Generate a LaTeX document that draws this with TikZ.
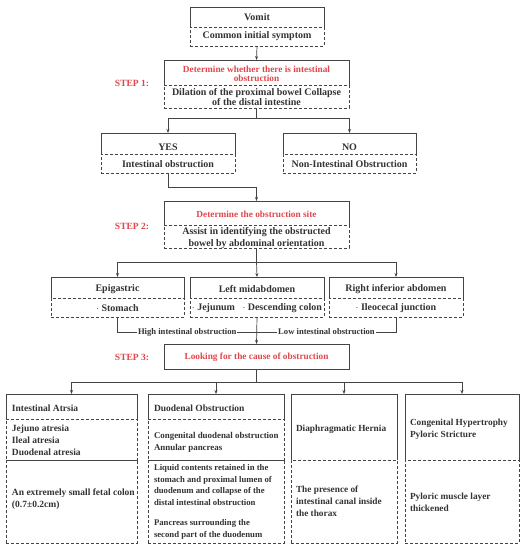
\documentclass[tikz,border=0pt]{standalone}
\usepackage{fontspec}
\setmainfont{Liberation Serif}
\usetikzlibrary{arrows.meta}
\definecolor{stepred}{HTML}{E0474C}
\definecolor{ink}{HTML}{333333}
\definecolor{linec}{HTML}{444444}
\begin{document}
\begin{tikzpicture}[x=1pt,y=-1pt,
  every node/.style={inner sep=0pt,outer sep=0pt,font=\bfseries\fontsize{10}{12}\selectfont,text=ink},
  boxpart/.style n args={2}{minimum width=#1,minimum height=#2},
  dbox/.style={draw=linec,line width=0.7pt,dash pattern=on 3pt off 2pt},
  sbox/.style={draw=linec,line width=0.7pt},
  txt/.style={align=center},
  ltxt/.style={align=left,anchor=west},
  redtxt/.style={text=stepred,font=\bfseries\fontsize{9.3}{9}\selectfont,align=center},
  steplbl/.style={text=stepred,font=\bfseries\fontsize{9.5}{11}\selectfont},
  conn/.style={draw=linec,line width=0.7pt},
  arr/.style={conn,-{Stealth[length=4pt,width=3pt]}},
  btxt/.style={font=\bfseries\fontsize{9.5}{12}\selectfont},
  stxt/.style={font=\bfseries\fontsize{8.7}{11.5}\selectfont},
  lbl/.style={fill=white,inner xsep=1pt,font=\bfseries\fontsize{8.6}{10}\selectfont}
]
\useasboundingbox (0,0) rectangle (526,550);
\fill[white] (0,0) rectangle (526,550);

% ---- Vomit
\node[boxpart={134pt}{20pt}] (vt) at (257,17) {};
\node[boxpart={134pt}{19pt},dbox] (vb) at (257,36.5) {};
\draw[sbox] (vt.south west) -- (vt.north west) -- (vt.north east) -- (vt.south east);
\node[txt] (vtt) at (257,17.5) {Vomit};
\node[txt] (vbt) at (257,36.5) {Common initial symptom};

% ---- Step 1
\node[boxpart={185pt}{25pt}] (s1t) at (256.5,72.5) {};
\node[boxpart={185pt}{23pt},dbox] (s1b) at (256.5,96.5) {};
\draw[sbox] (s1t.south west) -- (s1t.north west) -- (s1t.north east) -- (s1t.south east);
\node[redtxt] (s1tt) at (256.5,73.5) {Determine whether there is intestinal\\obstruction};
\node[txt,font=\bfseries\fontsize{10}{10}\selectfont] (s1bt) at (256.5,97.3) {Dilation of the proximal bowel Collapse\\of the distal intestine};
\node[steplbl] (st1) at (132,83) {STEP 1:};

% ---- YES / NO
\node[boxpart={134pt}{21pt}] (yt) at (168,143.5) {};
\node[boxpart={134pt}{19pt},dbox] (yb) at (168,163.5) {};
\draw[sbox] (yt.south west) -- (yt.north west) -- (yt.north east) -- (yt.south east);
\node[txt] (ytt) at (168,147) {YES};
\node[txt] (ybt) at (168,164) {Intestinal obstruction};
\node[boxpart={133pt}{21pt}] (nt) at (349.5,143.5) {};
\node[boxpart={133pt}{19pt},dbox] (nb) at (349.5,163.5) {};
\draw[sbox] (nt.south west) -- (nt.north west) -- (nt.north east) -- (nt.south east);
\node[txt] (ntt) at (349.5,147) {NO};
\node[txt] (nbt) at (349.5,164) {Non-Intestinal Obstruction};

% ---- Step 2
\node[boxpart={185pt}{24pt}] (s2t) at (256.5,213) {};
\node[boxpart={185pt}{23pt},dbox] (s2b) at (256.5,236.5) {};
\draw[sbox] (s2t.south west) -- (s2t.north west) -- (s2t.north east) -- (s2t.south east);
\node[redtxt] (s2tt) at (256.5,214) {Determine the obstruction site};
\node[txt,font=\bfseries\fontsize{10}{12}\selectfont] (s2bt) at (256.5,238.3) {Assist in identifying the obstructed\\bowel by abdominal orientation};
\node[steplbl] (st2) at (132,226) {STEP 2:};

% ---- three regions
\node[boxpart={133pt}{21pt}] (et) at (117.5,287.5) {};
\node[boxpart={133pt}{19pt},dbox] (eb) at (117.5,307.5) {};
\draw[sbox] (et.south west) -- (et.north west) -- (et.north east) -- (et.south east);
\node[txt] (ett) at (117.5,289) {Epigastric};
\node[txt] (ebt) at (117.5,308) {$\cdot$ Stomach};
\node[boxpart={134pt}{21pt}] (lt) at (257,287.5) {};
\node[boxpart={134pt}{19pt},dbox] (lb) at (257,307.5) {};
\draw[sbox] (lt.south west) -- (lt.north west) -- (lt.north east) -- (lt.south east);
\node[txt] (ltt) at (257,289) {Left midabdomen};
\node[txt] (lbt) at (257,308) {$\cdot$ Jejunum\ \ \ $\cdot$ Descending colon};
\node[boxpart={134pt}{21pt}] (rt) at (396,287.5) {};
\node[boxpart={134pt}{19pt},dbox] (rb) at (396,307.5) {};
\draw[sbox] (rt.south west) -- (rt.north west) -- (rt.north east) -- (rt.south east);
\node[txt] (rtt) at (396,289) {Right inferior abdomen};
\node[txt] (rbt) at (396,308) {$\cdot$ Ileocecal junction};

% ---- Step 3
\node[boxpart={185pt}{25pt},sbox] (s3) at (256.5,356.5) {};
\node[redtxt] (s3t) at (256.5,357) {Looking for the cause of obstruction};
\node[steplbl] (st3) at (132,357) {STEP 3:};

% ---- bottom box 1
\node[boxpart={131pt}{25pt}] (a1) at (71.5,406.5) {};
\node[boxpart={131pt}{41pt},dbox] (a2) at (71.5,439.5) {};
\node[boxpart={131pt}{83pt},dbox] (a3) at (71.5,501.5) {};
\draw[sbox] (a1.south west) -- (a1.north west) -- (a1.north east) -- (a1.south east);
\node[ltxt,btxt] (a1t) at (12,408) {Intestinal Atrsia};
\node[ltxt,btxt] (a2t) at (12,440) {Jejuno atresia\\Ileal atresia\\Duodenal atresia};
\node[ltxt,btxt] (a3t) at (12,499) {An extremely small fetal colon\\(0.7±0.2cm)};

% ---- bottom box 2
\node[boxpart={136pt}{25pt}] (d1) at (216,406.5) {};
\node[boxpart={136pt}{41pt},dbox] (d2) at (216,439.5) {};
\node[boxpart={136pt}{83pt},dbox] (d3) at (216,501.5) {};
\draw[sbox] (d1.south west) -- (d1.north west) -- (d1.north east) -- (d1.south east);
\node[ltxt,btxt] (d1t) at (154,408) {Duodenal Obstruction};
\node[ltxt,font=\bfseries\fontsize{8.9}{12}\selectfont] (d2t) at (154,442) {Congenital duodenal obstruction\\Annular pancreas};
\node[ltxt,stxt] (d3t) at (154,485) {Liquid contents retained in the\\stomach and proximal lumen of\\duodenum and collapse of the\\distal intestinal obstruction};
\node[ltxt,stxt] (d4t) at (154,529.5) {Pancreas surrounding the\\second part of the duodenum};

% ---- bottom box 3
\node[boxpart={106pt}{66pt}] (h1) at (344,427) {};
\node[boxpart={106pt}{83pt},dbox] (h2) at (344,501.5) {};
\draw[sbox] (h1.south west) -- (h1.north west) -- (h1.north east) -- (h1.south east);
\node[ltxt,font=\bfseries\fontsize{9.3}{12}\selectfont] (h1t) at (296,429) {Diaphragmatic Hernia};
\node[ltxt,font=\bfseries\fontsize{9.3}{12}\selectfont] (h2t) at (296,501) {The presence of\\intestinal canal inside\\the thorax};

% ---- bottom box 4
\node[boxpart={114pt}{66pt}] (p1) at (462,427) {};
\node[boxpart={114pt}{83pt},dbox] (p2) at (462,501.5) {};
\draw[sbox] (p1.south west) -- (p1.north west) -- (p1.north east) -- (p1.south east);
\node[ltxt,font=\bfseries\fontsize{9.3}{12}\selectfont] (p1t) at (410,429) {Congenital Hypertrophy\\Pyloric Stricture};
\node[ltxt,font=\bfseries\fontsize{9.3}{12}\selectfont] (p2t) at (410,502) {Pyloric muscle layer\\thickened};

% ---- connectors
\draw[arr] (vb.south) -- (s1t.north);
\draw[conn] (s1b.south) -- ++(0,10) coordinate (j1);
\draw[arr] (j1) -| (yt.north);
\draw[arr] (j1) -| (nt.north);
\draw[arr] (yb.south) -- ++(0,14) -| (s2t.north);
\draw[conn] (s2b.south) -- ++(0,14) coordinate (j2);
\draw[arr] (j2) -| (et.north);
\draw[arr] (j2) -- (lt.north);
\draw[arr] (j2) -| (rt.north);
\draw[arr] (lb.south) -- (s3.north);
\coordinate (jm) at (lb.south |- 0,332);
\draw[conn] (eb.south) |- (jm) node[pos=0.75,lbl] (hi) {High intestinal obstruction};
\draw[conn] (rb.south) |- (jm) node[pos=0.75,lbl] (lo) {Low intestinal obstruction};
\draw[conn] (s3.south) -- ++(0,13) coordinate (j3);
\draw[arr] (j3) -| (a1.north);
\draw[arr] (j3) -| (d1.north);
\draw[arr] (j3) -| (h1.north);
\draw[arr] (j3) -| (p1.north);
\end{tikzpicture}
\end{document}
